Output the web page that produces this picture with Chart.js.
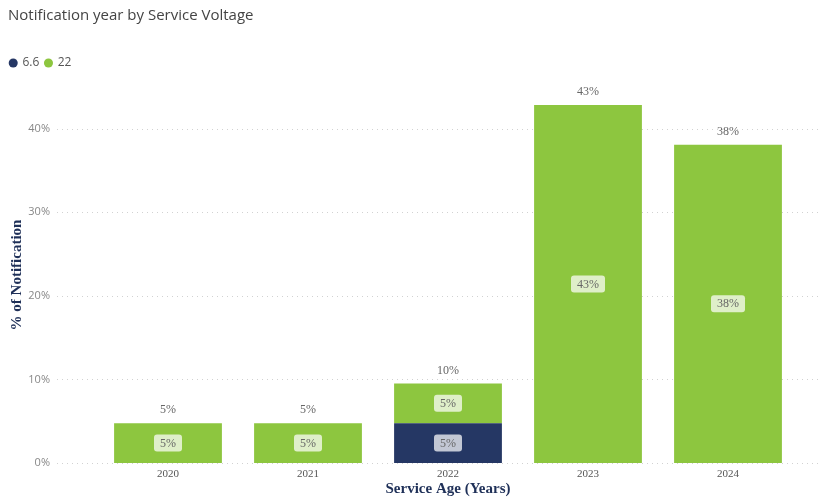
<!DOCTYPE html>
<html>
<head>
<meta charset="utf-8">
<script src="https://cdn.jsdelivr.net/npm/chart.js@4/dist/chart.umd.min.js"></script>
<style>
  html, body { margin: 0; padding: 0; background: #fff; }
  #wrap { width: 830px; height: 497px; }
</style>
</head>
<body>
<div id="wrap"><canvas id="chart" width="830" height="497"></canvas></div>
<script>
// Share of notifications per year, split by service voltage (kV)
const years = ["2020", "2021", "2022", "2023", "2024"];
const voltage66 = [0, 0, 4.76, 0, 0];
const voltage22 = [4.76, 4.76, 4.76, 42.86, 38.10];
const yTicks = [0, 10, 20, 30, 40];

const NAVY = "#253764";
const GREEN = "#8DC63F";
const SERIF = "'Liberation Serif', 'Times New Roman', serif";
const SANS = "'Open Sans', 'Noto Sans', sans-serif";

// Extra room under the legend, and pull its items a little to the left
const legendTweak = {
  id: "legendTweak",
  beforeInit(chart) {
    const legend = chart.legend;
    const fit = legend.fit;
    const draw = legend.draw;
    legend.fit = function () {
      fit.call(this);
      this.height += 8;
    };
    legend.draw = function () {
      this.ctx.save();
      this.ctx.translate(-4, 0);
      draw.call(this);
      this.ctx.restore();
    };
  },
};

// Dotted horizontal guides, running a bit wider than the bars
const dottedGrid = {
  id: "dottedGrid",
  beforeDatasetsDraw(chart) {
    const ctx = chart.ctx;
    const y = chart.scales.y;
    ctx.save();
    ctx.strokeStyle = "#d2d2d2";
    ctx.lineWidth = 1;
    ctx.setLineDash([1, 4]);
    yTicks.forEach((v) => {
      const py = Math.round(y.getPixelForValue(v)) + 0.5;
      ctx.beginPath();
      ctx.moveTo(57, py);
      ctx.lineTo(820, py);
      ctx.stroke();
    });
    ctx.restore();
  },
};

// Value badges inside each segment and totals above each stack
const barLabels = {
  id: "barLabels",
  afterDatasetsDraw(chart) {
    const ctx = chart.ctx;
    ctx.save();
    ctx.font = "12px " + SERIF;
    ctx.textAlign = "center";
    ctx.textBaseline = "middle";

    chart.data.datasets.forEach((ds, di) => {
      const meta = chart.getDatasetMeta(di);
      meta.data.forEach((bar, i) => {
        const v = ds.data[i];
        if (!v) return;
        const text = Math.round(v) + "%";
        const cy = (bar.y + bar.base) / 2;
        const w = ctx.measureText(text).width + 12;
        const h = 17;
        ctx.fillStyle = "rgba(255,255,255,0.72)";
        ctx.beginPath();
        ctx.roundRect(bar.x - w / 2, cy - h / 2, w, h, 3);
        ctx.fill();
        ctx.fillStyle = "#666";
        ctx.fillText(text, bar.x, cy + 0.5);
      });
    });

    const y = chart.scales.y;
    years.forEach((yr, i) => {
      const total = voltage66[i] + voltage22[i];
      const x = chart.scales.x.getPixelForValue(i);
      ctx.fillStyle = "#666";
      ctx.fillText(Math.round(total) + "%", x, y.getPixelForValue(total) - 13);
    });
    ctx.restore();
  },
};

new Chart(document.getElementById("chart"), {
  type: "bar",
  data: {
    labels: years,
    datasets: [
      {
        label: "6.6",
        data: voltage66,
        backgroundColor: NAVY,
        categoryPercentage: 0.77,
        barPercentage: 1,
      },
      {
        label: "22",
        data: voltage22,
        backgroundColor: GREEN,
        categoryPercentage: 0.77,
        barPercentage: 1,
      },
    ],
  },
  options: {
    responsive: false,
    animation: false,
    layout: { padding: { left: 8, right: 32, top: 5, bottom: 0 } },
    plugins: {
      title: {
        display: true,
        text: "Notification year by Service Voltage",
        align: "start",
        color: "#444",
        font: { size: 15, family: SANS, weight: "normal" },
        padding: { top: 2, bottom: 26 },
      },
      legend: {
        position: "top",
        align: "start",
        labels: {
          usePointStyle: true,
          pointStyle: "circle",
          boxWidth: 6.4,
          boxHeight: 6.4,
          padding: 6,
          color: "#555",
          font: { size: 12, family: SANS },
        },
      },
      tooltip: { enabled: false },
    },
    scales: {
      x: {
        stacked: true,
        grid: { display: false, drawTicks: false },
        border: { display: false },
        afterFit(scale) {
          scale.height = 34;
        },
        ticks: { color: "#555", font: { size: 11, family: SERIF }, padding: 5 },
        title: {
          display: true,
          text: "Service Age (Years)",
          color: "#1F3058",
          font: { size: 15, family: SERIF, weight: "bold", lineHeight: 1 },
          padding: { top: 0, bottom: 0 },
        },
      },
      y: {
        stacked: true,
        min: 0,
        max: 45,
        grid: { display: false, drawTicks: false },
        border: { display: false },
        afterBuildTicks(scale) {
          scale.ticks = yTicks.map((v) => ({ value: v }));
        },
        afterFit(scale) {
          // wide tick padding would otherwise also pad the axis top and bottom
          scale.width = 90;
          scale.paddingTop = 0;
          scale.paddingBottom = 0;
        },
        ticks: {
          color: "#888",
          padding: 48,
          font: { size: 11, family: SANS },
          callback: (v) => v + "%",
        },
        title: {
          display: true,
          text: "% of Notification",
          color: "#1F3058",
          font: { size: 15, family: SERIF, weight: "bold" },
          padding: { top: 0, bottom: 0 },
        },
      },
    },
  },
  plugins: [legendTweak, dottedGrid, barLabels],
});
</script>
</body>
</html>
